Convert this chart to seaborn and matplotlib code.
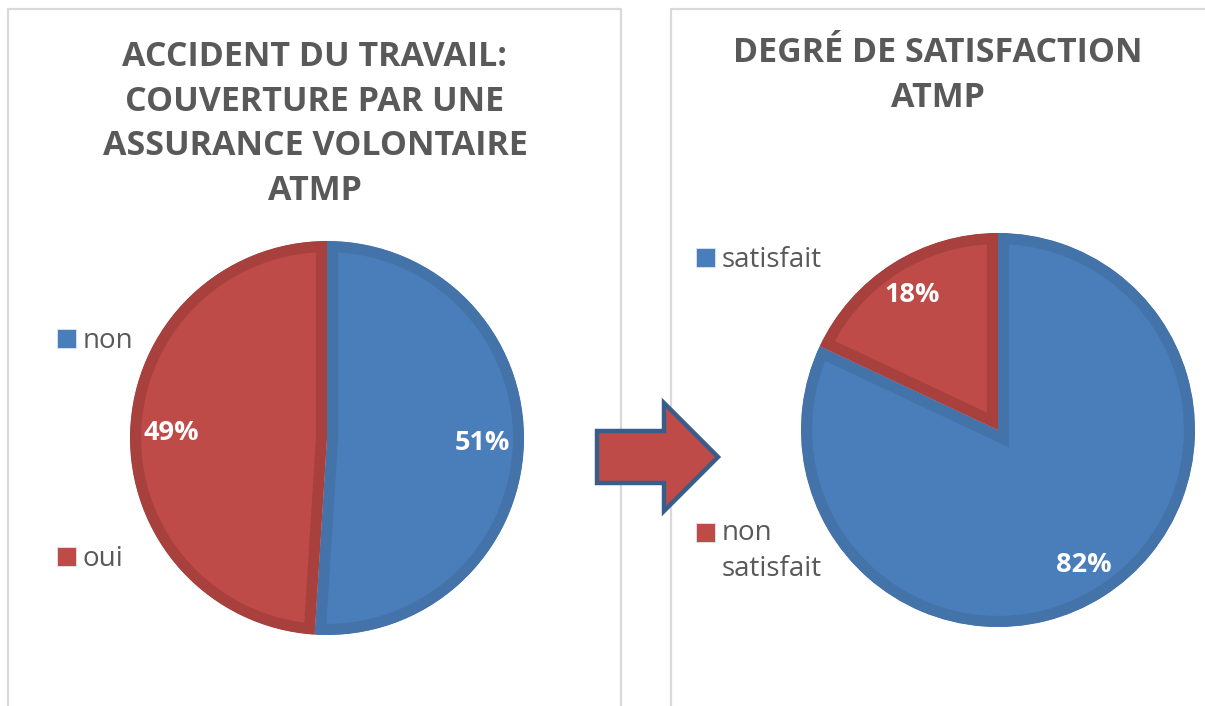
import matplotlib
matplotlib.use("Agg")
import matplotlib.pyplot as plt
import matplotlib.patches as mpatches
import seaborn as sns

# data
cats_left = ["non", "oui"]
vals_left = [51, 49]
cats_right = ["satisfait", "non\nsatisfait"]
vals_right = [82, 18]
title_left = "ACCIDENT DU TRAVAIL:\nCOUVERTURE PAR UNE\nASSURANCE VOLONTAIRE\nATMP"
title_right = "DEGRÉ DE SATISFACTION\nATMP"

sns.set_theme(style="white")
plt.rcParams["font.family"] = ["Open Sans", "DejaVu Sans"]

W, H = 1205, 706
BLUE, BLUE_E = "#4A7EBB", "#4473AA"
RED, RED_E = "#BE4B48", "#A8413E"
GREY = "#595959"

fig = plt.figure(figsize=(W / 100, H / 100), dpi=100)

# background layer in pixel coordinates: panel frames and arrow
bg = fig.add_axes([0, 0, 1, 1], zorder=0)
bg.set_xlim(0, W)
bg.set_ylim(H, 0)
bg.axis("off")
bg.plot([8, 8, 621, 621], [H + 5, 9, 9, H + 5], color="#D9D9D9", lw=1.6)
bg.plot([671, 671, W + 5], [H + 5, 9, 9], color="#D9D9D9", lw=1.6)
arrow = mpatches.Polygon(
    [(597, 431), (664, 431), (664, 403), (718, 457), (664, 511), (664, 483), (597, 483)],
    closed=True, facecolor=RED, edgecolor="#385D8A", lw=3.2, zorder=2)
bg.add_patch(arrow)


def pie_axes(cx, cy, r):
    return fig.add_axes([(cx - r) / W, (H - cy - r) / H, 2 * r / W, 2 * r / H], zorder=1)


def draw_pie(ax, vals, pctdist):
    wedges, _, autotexts = ax.pie(
        vals, colors=[BLUE, RED], startangle=90, counterclock=False,
        autopct="%1.0f%%", pctdistance=pctdist, radius=1,
        wedgeprops=dict(lw=16),
        textprops=dict(color="white", fontsize=19.5, fontweight="bold"))
    for w, ec in zip(wedges, [BLUE_E, RED_E]):
        w.set_edgecolor(ec)
        w.set_clip_on(True)
        w.set_clip_path(w)
    ax.set_xlim(-1, 1)
    ax.set_ylim(-1, 1)
    ax.set_aspect("equal")
    ax.axis("off")
    return wedges


ax1 = pie_axes(327, 438, 197)
w1 = draw_pie(ax1, vals_left, 0.79)
ax2 = pie_axes(998, 430, 197)
w2 = draw_pie(ax2, vals_right, 0.81)

fig.text(315 / W, 1 - 40 / H, title_left, ha="center", va="top", fontsize=24.5,
         fontweight="bold", color=GREY, linespacing=1.41)
fig.text(938 / W, 1 - 36 / H, title_right, ha="center", va="top", fontsize=24.5,
         fontweight="bold", color=GREY, linespacing=1.41)


def add_entry(wedge, label, x, y):
    leg = fig.legend(handles=[wedge], labels=[label], loc="center left",
                     bbox_to_anchor=(x / W, 1 - y / H), frameon=False,
                     fontsize=20, handlelength=0.68, handleheight=0.68,
                     handletextpad=0.25, borderpad=0, borderaxespad=0)
    txt = leg.get_texts()[0]
    txt.set_color(GREY)
    txt.set_linespacing(1.37)
    h = leg.legend_handles[0]
    h.set_edgecolor("#DDE6F0")
    h.set_linewidth(0.6)
    h.set_clip_path(None)
    h.set_clip_on(False)
    return leg, h


add_entry(w1[0], cats_left[0], 57, 341)
add_entry(w1[1], cats_left[1], 57, 559)
add_entry(w2[0], cats_right[0], 696, 260)
leg, h = add_entry(w2[1], cats_right[1], 696, 551)
h.set_y(h.get_y() + 13.7)

fig.savefig("out.png", dpi=100)
